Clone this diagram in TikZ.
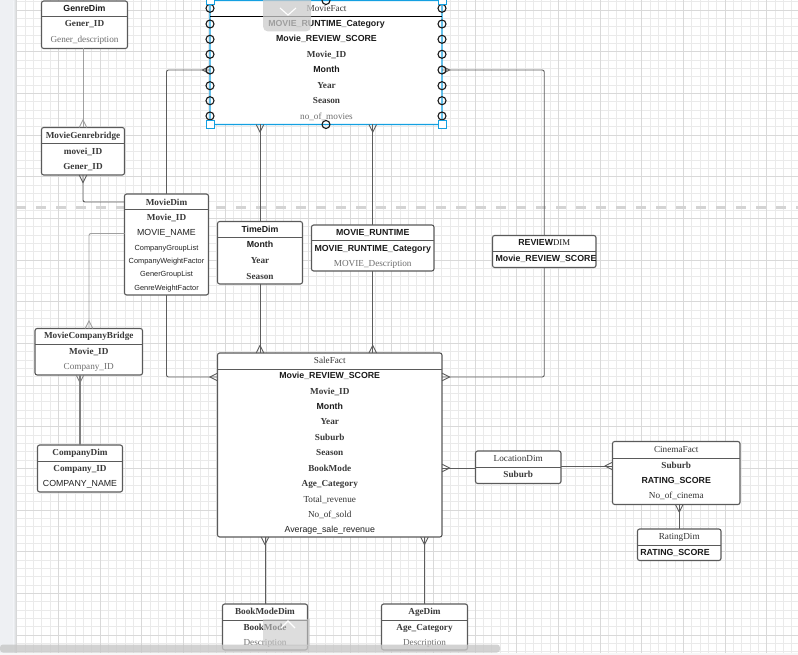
\documentclass[tikz,border=0pt]{standalone}
\usepackage{fontspec}
\setmainfont{Liberation Serif}
\setsansfont{Liberation Sans}
\usetikzlibrary{calc}
\definecolor{boxcol}{HTML}{5A5A5A}
\definecolor{conncol}{HTML}{5C5C5C}
\definecolor{connlight}{HTML}{A0A0A0}
\definecolor{sbcol}{HTML}{1A1A1A}
\definecolor{sncol}{HTML}{222222}
\definecolor{rbcol}{HTML}{3A3A3A}
\definecolor{rncol}{HTML}{333333}
\definecolor{rgcol}{HTML}{6E6E6E}
\definecolor{selblue}{RGB}{20,160,225}
\definecolor{gridmin}{HTML}{EAEAEA}
\definecolor{gridmaj}{HTML}{D9D9D9}
\definecolor{stripcol}{HTML}{EEF0F3}
\tikzset{
  gmin/.style={draw=gridmin, line width=0.7pt},
  gmaj/.style={draw=gridmaj, line width=0.9pt},
  ebox/.style={draw=boxcol, line width=1.1pt, fill=white, rounded corners=2.2pt,
    inner sep=0pt, outer sep=0pt, anchor=north west},
  sepl/.style={draw=boxcol, line width=1pt},
  tx/.style={inner sep=0pt, anchor=base, yshift=-3.2pt},
  sb/.style={tx, font=\fontsize{8.8}{10}\selectfont\sffamily\bfseries, text=sbcol},
  sn/.style={tx, font=\fontsize{8.8}{10}\selectfont\sffamily, text=sncol},
  ss/.style={tx, font=\fontsize{7.4}{9}\selectfont\sffamily, text=sncol},
  rb/.style={tx, font=\fontsize{9.2}{10}\selectfont\rmfamily\bfseries, text=rbcol},
  rn/.style={tx, font=\fontsize{9.2}{10}\selectfont\rmfamily, text=rncol},
  rg/.style={tx, font=\fontsize{9.2}{10}\selectfont\rmfamily, text=rgcol},
  conn/.style={draw=conncol, line width=0.9pt, rounded corners=2pt},
  connl/.style={draw=connlight, line width=0.9pt, rounded corners=2pt},
  conng/.style={draw=black!50, line width=1.5pt},
  crowst/.style={line width=0.9pt},
  crowup/.pic={\draw[crowst] (-3.8,0) -- (0,-7.5) -- (3.8,0);},
  crowdown/.pic={\draw[crowst] (-3.8,0) -- (0,7.5) -- (3.8,0);},
  crowleft/.pic={\draw[crowst] (0,-3.8) -- (-7.5,0) -- (0,3.8);},
  crowright/.pic={\draw[crowst] (0,-3.8) -- (7.5,0) -- (0,3.8);},
  handle/.style={draw=selblue, fill=white, line width=0.9pt, minimum size=8pt,
    inner sep=0pt, outer sep=0pt},
  selcirc/.style={draw=black!90, line width=1.1pt, circle, minimum size=8pt,
    inner sep=0pt, outer sep=0pt},
}
\begin{document}
\begin{tikzpicture}[x=1pt,y=-1pt]
\useasboundingbox (0,0) rectangle (798,655);
\fill[white] (0,0) rectangle (798,655);
% grid
\foreach \i in {0,...,93} \draw[gmin] ({16.7+8.3333*\i},0) -- ({16.7+8.3333*\i},655);
\foreach \i in {0,...,78} \draw[gmin] (16.7,{1.67+8.3333*\i}) -- (798,{1.67+8.3333*\i});
\foreach \i in {0,...,18} \draw[gmaj] ({16.7+41.667*\i},0) -- ({16.7+41.667*\i},655);
\foreach \i in {0,...,15} \draw[gmaj] (16.7,{10+41.667*\i}) -- (798,{10+41.667*\i});
% left strip
\fill[stripcol] (0,0) rectangle (13.5,655);
\shade[left color=stripcol, right color=black!18] (13.5,0) rectangle (16.7,655);
% page break
\draw[draw=black!17, line width=3pt, dash pattern=on 10pt off 10pt] (16,207.3) -- (798,207.3);

% ---------------- entity boxes ----------------
\node[ebox, minimum width=86pt, minimum height=47.5pt] (genre) at (41.5,1) {};
\node[ebox, minimum width=83pt, minimum height=47.5pt] (mgb) at (41.5,127.5) {};
\node[ebox, draw=selblue, minimum width=232pt, minimum height=124pt] (moviefact) at (210,0.5) {};
\node[ebox, minimum width=84pt, minimum height=101pt] (moviedim) at (124.5,194) {};
\node[ebox, minimum width=85pt, minimum height=62.5pt] (timedim) at (217.5,221.5) {};
\node[ebox, minimum width=122.5pt, minimum height=46pt] (runtime) at (311.5,225) {};
\node[ebox, minimum width=103.5pt, minimum height=32pt] (reviewdim) at (492.5,235.5) {};
\node[ebox, minimum width=107.5pt, minimum height=46.5pt] (mcb) at (35,328.5) {};
\node[ebox, minimum width=85pt, minimum height=47pt] (companydim) at (37.5,445) {};
\node[ebox, minimum width=224.5pt, minimum height=184pt] (salefact) at (217.5,353) {};
\node[ebox, minimum width=85.5pt, minimum height=32.5pt] (locationdim) at (475.5,451) {};
\node[ebox, minimum width=127.5pt, minimum height=63pt] (cinemafact) at (612.5,441.5) {};
\node[ebox, minimum width=83.5pt, minimum height=31.5pt] (ratingdim) at (637.5,529) {};
\node[ebox, minimum width=85pt, minimum height=46pt] (bookmodedim) at (222.5,604) {};
\node[ebox, minimum width=86pt, minimum height=46pt] (agedim) at (381.5,604) {};

% separators
\draw[sepl] ([yshift=-15.5pt]genre.north west) -- ([yshift=-15.5pt]genre.north east);
\draw[sepl] ([yshift=-16.5pt]mgb.north west) -- ([yshift=-16.5pt]mgb.north east);
\draw[draw=black, line width=1pt] ([yshift=-16pt]moviefact.north west) -- ([yshift=-16pt]moviefact.north east);
\draw[sepl] ([yshift=-15.5pt]moviedim.north west) -- ([yshift=-15.5pt]moviedim.north east);
\draw[sepl] ([yshift=-16.5pt]timedim.north west) -- ([yshift=-16.5pt]timedim.north east);
\draw[sepl] ([yshift=-15.5pt]runtime.north west) -- ([yshift=-15.5pt]runtime.north east);
\draw[sepl] ([yshift=-16pt]reviewdim.north west) -- ([yshift=-16pt]reviewdim.north east);
\draw[sepl] ([yshift=-15.5pt]mcb.north west) -- ([yshift=-15.5pt]mcb.north east);
\draw[sepl] ([yshift=-16.5pt]companydim.north west) -- ([yshift=-16.5pt]companydim.north east);
\draw[sepl] ([yshift=-16.5pt]salefact.north west) -- ([yshift=-16.5pt]salefact.north east);
\draw[sepl] ([yshift=-16.5pt]locationdim.north west) -- ([yshift=-16.5pt]locationdim.north east);
\draw[sepl] ([yshift=-16.5pt]cinemafact.north west) -- ([yshift=-16.5pt]cinemafact.north east);
\draw[sepl] ([yshift=-16pt]ratingdim.north west) -- ([yshift=-16pt]ratingdim.north east);
\draw[sepl] ([yshift=-16.5pt]bookmodedim.north west) -- ([yshift=-16.5pt]bookmodedim.north east);
\draw[sepl] ([yshift=-16.5pt]agedim.north west) -- ([yshift=-16.5pt]agedim.north east);

% ---------------- connectors ----------------
\coordinate (mfL) at ([yshift=-69.5pt]moviefact.north west);
\coordinate (mfR) at ([yshift=-69.5pt]moviefact.north east);
\coordinate (mdL1) at ([yshift=-8pt]moviedim.north west);
\coordinate (mdL2) at ([yshift=-39.5pt]moviedim.north west);
\coordinate (mcbT) at ([xshift=54pt]mcb.north west);
\coordinate (mcbB) at ([xshift=45pt]mcb.south west);
\coordinate (sfL) at ([yshift=-24pt]salefact.north west);
\coordinate (sfR) at ([yshift=-24pt]salefact.north east);
\coordinate (ldL) at ([yshift=-17pt]locationdim.north west);
\coordinate (ldR) at ([yshift=-15pt]locationdim.north east);

\draw[connl] (mgb.north |- genre.south) -- (mgb.north);
\draw[conn] (mgb.south) |- (mdL1);
\draw[conn] (moviedim.north) |- (mfL);
\draw[connl] (mdL2) -| (mcbT);
\draw[conng] (mcbB) -- (companydim.north);
\draw[conn] (moviedim.south) |- (sfL);
\draw[conn] (timedim.north |- moviefact.south) -- (timedim.north);
\draw[conn] (timedim.south) -- (timedim.south |- salefact.north);
\draw[conn] (runtime.north |- moviefact.south) -- (runtime.north);
\draw[conn] (runtime.south) -- (runtime.south |- salefact.north);
\draw[conn] (mfR) -| (reviewdim.north);
\draw[conn] (reviewdim.south) |- (sfR);
\draw[conn] (ldL) -- (ldL -| salefact.east);
\draw[conn] (ldR) -- (ldR -| cinemafact.west);
\draw[conn] (ratingdim.north) -- (ratingdim.north |- cinemafact.south);
\draw[conn] (bookmodedim.north) -- (bookmodedim.north |- salefact.south);
\draw[conn] (agedim.north) -- (agedim.north |- salefact.south);

% crow's feet
\pic[color=connlight] at (mgb.north) {crowup};
\pic[color=conncol] at (mgb.south) {crowdown};
\pic[color=conncol] at (mfL) {crowleft};
\pic[color=connlight] at (mcbT) {crowup};
\pic[color=black!50] at (mcbB) {crowdown};
\pic[color=conncol] at (sfL) {crowleft};
\pic[color=conncol] at (timedim.north |- moviefact.south) {crowdown};
\pic[color=conncol] at (timedim.south |- salefact.north) {crowup};
\pic[color=conncol] at (runtime.north |- moviefact.south) {crowdown};
\pic[color=conncol] at (runtime.south |- salefact.north) {crowup};
\pic[color=conncol] at (mfR) {crowright};
\pic[color=conncol] at (sfR) {crowright};
\pic[color=conncol] at (ldL -| salefact.east) {crowright};
\pic[color=conncol] at (ldR -| cinemafact.west) {crowleft};
\pic[color=conncol] at (ratingdim.north |- cinemafact.south) {crowdown};
\pic[color=conncol] at (bookmodedim.north |- salefact.south) {crowdown};
\pic[color=conncol] at (agedim.north |- salefact.south) {crowdown};

% ---------------- texts ----------------
% GenreDim
\node[sb] (t-genre) at (84.5,8) {GenreDim};
\node[rb] (t-genre1) at (84.5,23) {Gener\_ID};
\node[rg] (t-genre2) at (84.5,39.5) {Gener\_description};
% MovieGenrebridge
\node[rb] (t-mgb) at (83,135.5) {MovieGenrebridge};
\node[rb] (t-mgb1) at (83,151) {movei\_ID};
\node[rb] (t-mgb2) at (83,166) {Gener\_ID};
% MovieFact
\node[rn] (t-mf) at (326.5,8.3) {MovieFact};
\node[sb] (t-mf1) at (326.5,23.5) {MOVIE\_RUNTIME\_Category};
\node[sb] (t-mf2) at (326.5,38.5) {Movie\_REVIEW\_SCORE};
\node[rb] (t-mf3) at (326.5,54) {Movie\_ID};
\node[sb] (t-mf4) at (326.5,69.5) {Month};
\node[rb] (t-mf5) at (326.5,85) {Year};
\node[rb] (t-mf6) at (326.5,100.5) {Season};
\node[rg] (t-mf7) at (326.5,116) {no\_of\_movies};
% MovieDim
\node[rb] (t-md) at (166.5,202) {MovieDim};
\node[rb] (t-md1) at (166.5,217) {Movie\_ID};
\node[sn] (t-md2) at (166.5,232.5) {MOVIE\_NAME};
\node[ss] (t-md3) at (166.5,247.3) {CompanyGroupList};
\node[ss] (t-md4) at (166.5,260.7) {CompanyWeightFactor};
\node[ss] (t-md5) at (166.5,273.5) {GenerGroupList};
\node[ss] (t-md6) at (166.5,287.3) {GenreWeightFactor};
% TimeDim
\node[sb] (t-td) at (260,229.5) {TimeDim};
\node[sb] (t-td1) at (260,244.5) {Month};
\node[rb] (t-td2) at (260,260) {Year};
\node[rb] (t-td3) at (260,276) {Season};
% MOVIE_RUNTIME
\node[sb] (t-rt) at (372.75,232.8) {MOVIE\_RUNTIME};
\node[sb] (t-rt1) at (372.75,248.7) {MOVIE\_RUNTIME\_Category};
\node[rg] (t-rt2) at (372.75,263.5) {MOVIE\_Description};
% REVIEWDIM
\node[sb] (t-rv) at (544.25,242.8) {REVIEW\textrm{\mdseries DIM}};
\node[sb] (t-rv1) at (546,258.3) {Movie\_REVIEW\_SCORE};
% MovieCompanyBridge
\node[rb] (t-mcb) at (88.75,335.7) {MovieCompanyBridge};
\node[rb] (t-mcb1) at (88.75,351.7) {Movie\_ID};
\node[rg] (t-mcb2) at (88.75,366.7) {Company\_ID};
% CompanyDim
\node[rb] (t-cd) at (80,452.7) {CompanyDim};
\node[rb] (t-cd1) at (80,468.3) {Company\_ID};
\node[sn] (t-cd2) at (80,483.3) {COMPANY\_NAME};
% SaleFact
\node[rn] (t-sf) at (329.75,360.7) {SaleFact};
\node[sb] (t-sf1) at (329.75,375.7) {Movie\_REVIEW\_SCORE};
\node[rb] (t-sf2) at (329.75,391.5) {Movie\_ID};
\node[sb] (t-sf3) at (329.75,406) {Month};
\node[rb] (t-sf4) at (329.75,421.5) {Year};
\node[rb] (t-sf5) at (329.75,437.5) {Suburb};
\node[rb] (t-sf6) at (329.75,452.5) {Season};
\node[rb] (t-sf7) at (329.75,468.3) {BookMode};
\node[rb] (t-sf8) at (329.75,483.7) {Age\_Category};
\node[rn] (t-sf9) at (329.75,499) {Total\_revenue};
\node[rn] (t-sf10) at (329.75,514) {No\_of\_sold};
\node[sn] (t-sf11) at (329.75,529) {Average\_sale\_revenue};
% LocationDim
\node[rn] (t-ld) at (518.25,458.7) {LocationDim};
\node[rb] (t-ld1) at (518.25,474.3) {Suburb};
% CinemaFact
\node[rn] (t-cf) at (676.25,449.3) {CinemaFact};
\node[rb] (t-cf1) at (676.25,465.7) {Suburb};
\node[sb] (t-cf2) at (676.25,480) {RATING\_SCORE};
\node[rn] (t-cf3) at (676.25,495.3) {No\_of\_cinema};
% RatingDim
\node[rn] (t-rd) at (679.25,536) {RatingDim};
\node[sb] (t-rd1) at (675,552) {RATING\_SCORE};
% BookModeDim
\node[rb] (t-bm) at (265,611.7) {BookModeDim};
\node[rb] (t-bm1) at (265,627.7) {BookMode};
\node[rg] (t-bm2) at (265,642.7) {Description};
% AgeDim
\node[rb] (t-ad) at (424.5,611.7) {AgeDim};
\node[rb] (t-ad1) at (424.5,627.7) {Age\_Category};
\node[rg] (t-ad2) at (424.5,642.7) {Description};

% ---------------- selection decorations ----------------
\foreach \yy in {8.3,24,39.3,54.3,70,85.7,100.7,116} {
  \node[selcirc] at (210,\yy) {};
  \node[selcirc] at (442,\yy) {};
}
\node[selcirc] (sc-b) at (moviefact.south) {};
\node[selcirc] (sc-t) at (moviefact.north) {};
\node[handle] (h1) at (moviefact.north west) {};
\node[handle] (h2) at (moviefact.north east) {};
\node[handle] (h3) at (moviefact.south west) {};
\node[handle] (h4) at (moviefact.south east) {};
% dropdown overlay
\fill[black!20, opacity=0.75, rounded corners=5pt] (263,-6) rectangle (311,31.5);
\draw[white, line width=1.1pt] (280,8) -- (288,15) -- (296,8);
% hover overlay on BookModeDim
\fill[black!22, opacity=0.6] (263,619) rectangle (309.5,646);
\draw[white, line width=1.1pt] (281,628) -- (288,621) -- (295,628);

% bottom scrollbar
\fill[black!3] (0,652.5) rectangle (798,655);
\fill[black!22, opacity=0.8, rounded corners=3pt] (0,644.5) rectangle (500,652.5);
\end{tikzpicture}
\end{document}
